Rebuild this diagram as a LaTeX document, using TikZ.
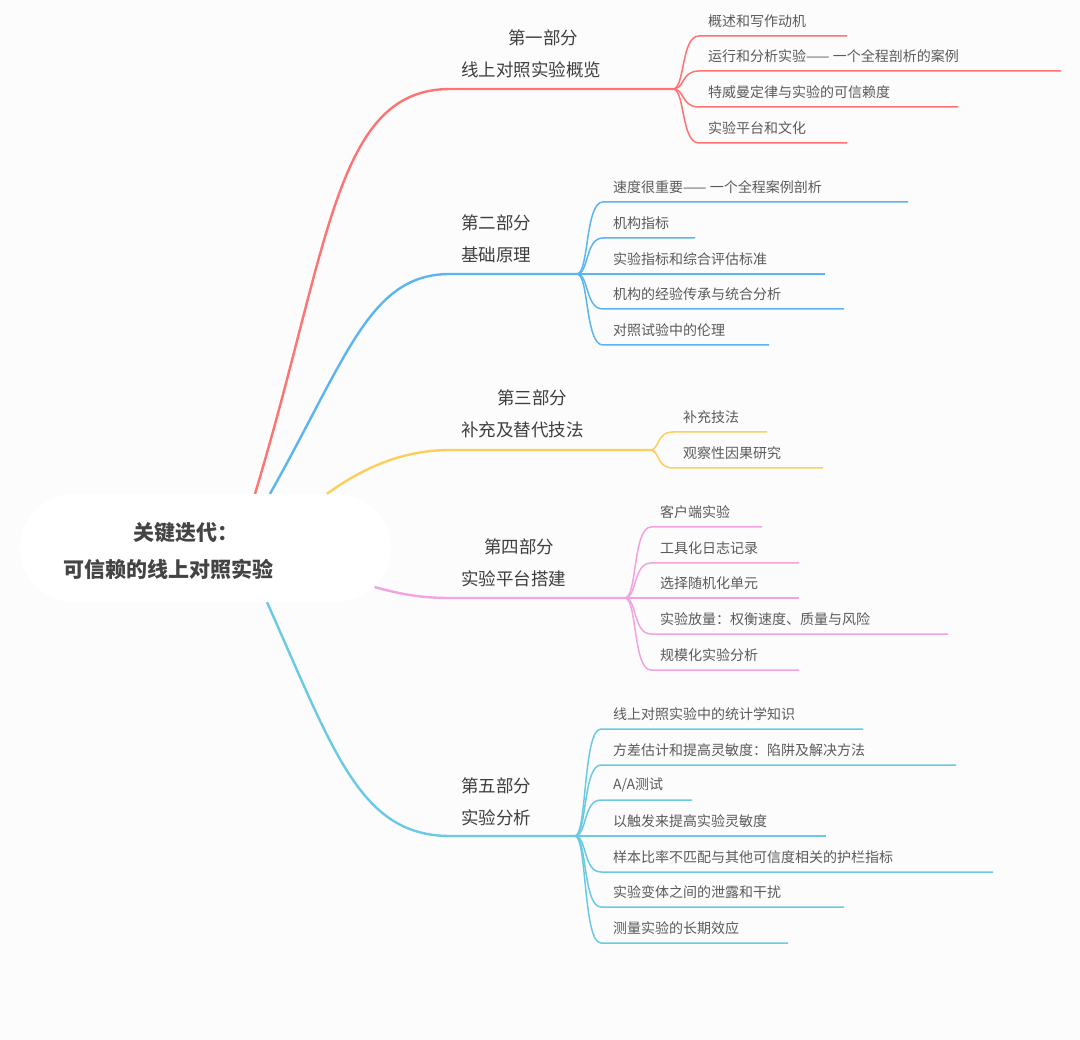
\documentclass[tikz,border=0pt]{standalone}
\usepackage{fontspec}
\setmainfont{Noto Sans CJK SC}
\usetikzlibrary{shapes.misc}
\definecolor{bgc}{HTML}{FCFCFC}
\definecolor{redc}{HTML}{FF7373}
\definecolor{bluec}{HTML}{5BB5F0}
\definecolor{yelc}{HTML}{FFCD5A}
\definecolor{pinkc}{HTML}{F2A3E0}
\definecolor{cyanc}{HTML}{6ACAE4}
\definecolor{rootgray}{HTML}{444444}
\definecolor{labgray}{HTML}{3E3E3E}
\definecolor{leafgray}{HTML}{5A5A5A}
\tikzset{
  rootbox/.style={rounded rectangle, fill=white, minimum width=371pt, minimum height=108pt, inner sep=0pt},
  roottext/.style={anchor=west, align=left, text=rootgray, inner sep=0pt,
    font=\bfseries\fontsize{21pt}{37pt}\selectfont},
  partlabel/.style={anchor=west, align=left, text=labgray, inner sep=0pt,
    font=\fontsize{17.5pt}{32pt}\selectfont},
  leaf/.style={anchor=west, text=leafgray, inner sep=0pt, font=\fontsize{14pt}{16pt}\selectfont},
  trunk/.style={line width=2.4pt, draw=#1},
  twig/.style={line width=1.5pt, draw=#1}
}
\begin{document}
\begin{tikzpicture}[x=1pt,y=-1pt]
  \useasboundingbox (0,0) rectangle (1080,1040);
  \fill[bgc] (0,0) rectangle (1080,1040);

  \node[rootbox] (root) at (205.5,548) {};
  \node[roottext] (roottxt) at (63,551.5) {\hspace*{70pt}关键迭代：\\可信赖的线上对照实验};

  % first part
  \coordinate (b1) at (673,89);
  \draw[trunk=redc] ([xshift=49.5pt]root.north) .. controls (330,245) and (335,89) .. (450,89) -- (b1);
  \node[partlabel] (p1) at (461,54) {\hspace*{47pt}第一部分\\线上对照实验概览};
  \foreach \ly/\ex/\txt [count=\i] in {36/847/概述和写作动机, 71/1061/运行和分析实验—— 一个全程剖析的案例,
      107/958/特威曼定律与实验的可信赖度, 143/847/实验平台和文化}{
    \coordinate (b1-\i) at (\ex,\ly);
    \node[leaf] (l1-\i) at (708,\ly-15) {\txt};
    \draw[twig=redc] (b1) .. controls ([xshift=12pt]b1) and (681,\ly) .. (699,\ly) -- (b1-\i);
  }

  % second part
  \coordinate (b2) at (577,274);
  \draw[trunk=bluec] ([xshift=64.5pt]root.north) .. controls (348,355) and (370,274) .. (450,274) -- (b2);
  \node[partlabel] (p2) at (461,239) {第二部分\\基础原理};
  \foreach \ly/\ex/\txt [count=\i] in {202/908/速度很重要—— 一个全程案例剖析, 238/695/机构指标,
      274/825/实验指标和综合评估标准, 309/844/机构的经验传承与统合分析, 345/769/对照试验中的伦理}{
    \coordinate (b2-\i) at (\ex,\ly);
    \node[leaf] (l2-\i) at (613,\ly-15) {\txt};
    \draw[twig=bluec] (b2) .. controls ([xshift=12pt]b2) and (585,\ly) .. (603,\ly) -- (b2-\i);
  }

  % third part
  \coordinate (b3) at (650,450);
  \draw[trunk=yelc] ([xshift=121.5pt]root.north) .. controls (360,470) and (400,450) .. (450,450) -- (b3);
  \node[partlabel] (p3) at (461,414) {\hspace*{36pt}第三部分\\补充及替代技法};
  \foreach \ly/\ex/\txt [count=\i] in {432/767/补充技法, 468/823/观察性因果研究}{
    \coordinate (b3-\i) at (\ex,\ly);
    \node[leaf] (l3-\i) at (683,\ly-15) {\txt};
    \draw[twig=yelc] (b3) .. controls ([xshift=10pt]b3) and (656,\ly) .. (673,\ly) -- (b3-\i);
  }

  % fourth part
  \coordinate (b4) at (625,598);
  \draw[trunk=pinkc] (root.-13) .. controls (400,594) and (420,598) .. (450,598) -- (b4);
  \node[partlabel] (p4) at (461,563) {\hspace*{23pt}第四部分\\实验平台搭建};
  \foreach \ly/\ex/\txt [count=\i] in {527/762/客户端实验, 563/799/工具化日志记录, 598/799/选择随机化单元,
      634/948/实验放量：权衡速度、质量与风险, 670/799/规模化实验分析}{
    \coordinate (b4-\i) at (\ex,\ly);
    \node[leaf] (l4-\i) at (660,\ly-15) {\txt};
    \draw[twig=pinkc] (b4) .. controls ([xshift=12pt]b4) and (633,\ly) .. (651,\ly) -- (b4-\i);
  }

  % fifth part
  \coordinate (b5) at (575,836);
  \draw[trunk=cyanc] ([xshift=61.5pt]root.south) .. controls (334,752) and (360,836) .. (450,836) -- (b5);
  \node[partlabel] (p5) at (461,801.5) {第五部分\\实验分析};
  \foreach \ly/\ex/\txt [count=\i] in {729/863/线上对照实验中的统计学知识, 765/956/方差估计和提高灵敏度：陷阱及解决方法,
      800/692/{A/A测试}, 836/826/以触发来提高实验灵敏度, 872/993/样本比率不匹配与其他可信度相关的护栏指标,
      907/844/实验变体之间的泄露和干扰, 943/788/测量实验的长期效应}{
    \coordinate (b5-\i) at (\ex,\ly);
    \node[leaf] (l5-\i) at (613,\ly-15) {\txt};
    \draw[twig=cyanc] (b5) .. controls ([xshift=12pt]b5) and (583,\ly) .. (601,\ly) -- (b5-\i);
  }
\end{tikzpicture}
\end{document}
